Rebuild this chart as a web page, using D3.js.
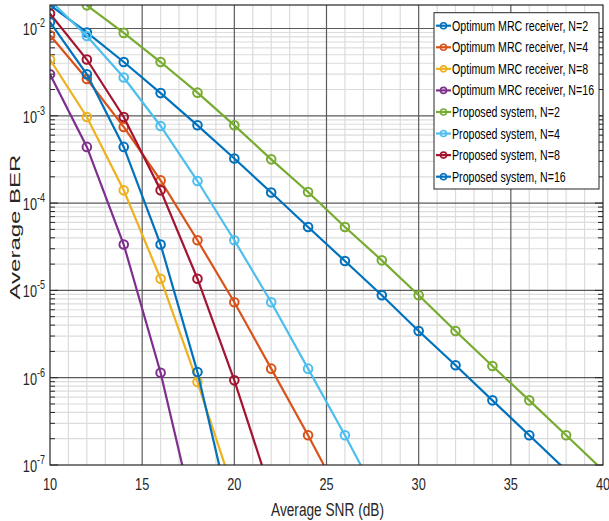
<!DOCTYPE html>
<html><head><meta charset="utf-8">
<script src="https://cdn.jsdelivr.net/npm/d3@7/dist/d3.min.js"></script>
<style>body{margin:0;background:#fff}svg{display:block}</style>
</head><body>
<svg id="c" width="609" height="521"></svg>
<script>
// ---- data ----
const seriesNames = ["Optimum MRC receiver, N=2","Optimum MRC receiver, N=4","Optimum MRC receiver, N=8","Optimum MRC receiver, N=16","Proposed system, N=2","Proposed system, N=4","Proposed system, N=8","Proposed system, N=16"];
const seriesColors = ["#0072BD","#D95319","#EDB120","#7E2F8E","#77AC30","#4DBEEE","#A2142F","#0072BD"];
const optN2_x = [10,12,14,16,18,20,22,24,26,28,30,32,34,36,38];
const optN2_y = [1.85e-2,9.0e-3,4.13e-3,1.82e-3,7.78e-4,3.24e-4,1.32e-4,5.32e-5,2.17e-5,8.8e-6,3.43e-6,1.39e-6,5.5e-7,2.19e-7,8.7e-8];
const optN4_x = [10,12,14,16,18,20,22,24,26];
const optN4_y = [8.36e-3,2.64e-3,7.45e-4,1.82e-4,3.75e-5,7.31e-6,1.27e-6,2.19e-7,3.5e-8];
const optN8_x = [10,12,14,16,18,20];
const optN8_y = [4.41e-3,9.68e-4,1.40e-4,1.36e-5,8.9e-7,4.7e-8];
const optN16_x = [10,12,14,16,18];
const optN16_y = [2.99e-3,4.40e-4,3.35e-5,1.14e-6,1.8e-8];
const propN2_x = [12,14,16,18,20,22,24,26,28,30,32,34,36,38,40];
const propN2_y = [1.84e-2,8.9e-3,4.13e-3,1.84e-3,7.78e-4,3.17e-4,1.34e-4,5.32e-5,2.21e-5,8.8e-6,3.43e-6,1.36e-6,5.5e-7,2.19e-7,8.7e-8];
const propN4_x = [10,12,14,16,18,20,22,24,26,28];
const propN4_y = [2.1e-2,8.2e-3,2.74e-3,7.64e-4,1.79e-4,3.75e-5,7.31e-6,1.27e-6,2.19e-7,3.5e-8];
const propN8_x = [10,12,14,16,18,20,22];
const propN8_y = [1.48e-2,4.41e-3,9.68e-4,1.40e-4,1.36e-5,9.33e-7,4.7e-8];
const propN16_x = [10,12,14,16,18,20];
const propN16_y = [1.18e-2,2.99e-3,4.40e-4,3.35e-5,1.16e-6,1.8e-8];
const xTicks = [10,15,20,25,30,35,40];
const yTickExps = [-7,-6,-5,-4,-3,-2];
const xLabel = "Average SNR (dB)";
const yLabel = "Average BER";

const seriesX = [optN2_x,optN4_x,optN8_x,optN16_x,propN2_x,propN4_x,propN8_x,propN16_x];
const seriesY = [optN2_y,optN4_y,optN8_y,optN16_y,propN2_y,propN4_y,propN8_y,propN16_y];

// ---- layout ----
const L = 50, R = 603, T = 5, B = 465;
const FONT = "'Liberation Sans', Arial, sans-serif";
const svg = d3.select("#c");
const x = d3.scaleLinear().domain([10,40]).range([L,R]);
const y = d3.scaleLog().domain([1e-7, Math.pow(10,-1.731)]).range([B,T]);

// grid
const grid = svg.append("g");
const xMinor = d3.range(11,40).filter(v=>v%5!==0);
const yMinor = [];
for (let e=-7;e<=-2;e++) for (let k=2;k<=9;k++){const v=k*Math.pow(10,e); if (v<y.domain()[1]) yMinor.push(v);}
grid.selectAll(".xm").data(xMinor).join("line").attr("x1",d=>x(d)).attr("x2",d=>x(d)).attr("y1",T).attr("y2",B).attr("stroke","#dcdcdc").attr("stroke-width",1.2);
grid.selectAll(".ym").data(yMinor).join("line").attr("y1",d=>y(d)).attr("y2",d=>y(d)).attr("x1",L).attr("x2",R).attr("stroke","#dcdcdc").attr("stroke-width",1.2);
grid.selectAll(".xM").data(xTicks.slice(1,-1)).join("line").attr("x1",d=>x(d)).attr("x2",d=>x(d)).attr("y1",T).attr("y2",B).attr("stroke","#5a5a5a").attr("stroke-width",1.2);
grid.selectAll(".yM").data(yTickExps.slice(1)).join("line").attr("y1",d=>y(Math.pow(10,d))).attr("y2",d=>y(Math.pow(10,d))).attr("x1",L).attr("x2",R).attr("stroke","#5a5a5a").attr("stroke-width",1.2);

// minor ticks left/right
const tk = svg.append("g").attr("stroke","#262626").attr("stroke-width",1);
yMinor.forEach(v=>{
  tk.append("line").attr("x1",L).attr("x2",L+5).attr("y1",y(v)).attr("y2",y(v));
  tk.append("line").attr("x1",R).attr("x2",R-5).attr("y1",y(v)).attr("y2",y(v));
});
yTickExps.forEach(e=>{
  const v=Math.pow(10,e);
  tk.append("line").attr("x1",L).attr("x2",L+8).attr("y1",y(v)).attr("y2",y(v));
  tk.append("line").attr("x1",R).attr("x2",R-8).attr("y1",y(v)).attr("y2",y(v));
});

// clip
svg.append("clipPath").attr("id","clp").append("rect").attr("x",L).attr("y",T).attr("width",R-L).attr("height",B-T);
const plot = svg.append("g").attr("clip-path","url(#clp)");
const line = d3.line().x(d=>x(d[0])).y(d=>y(d[1]));
seriesX.forEach((xs,i)=>{
  const pts = xs.map((v,j)=>[v,seriesY[i][j]]);
  const g = plot.append("g");
  g.append("path").attr("d",line(pts)).attr("fill","none").attr("stroke",seriesColors[i]).attr("stroke-width",2.2);
  g.selectAll("circle").data(pts).join("circle").attr("cx",d=>x(d[0])).attr("cy",d=>y(d[1])).attr("r",4.3)
   .attr("fill","none").attr("stroke",seriesColors[i]).attr("stroke-width",2);
});

// axes box
svg.append("rect").attr("x",L).attr("y",T).attr("width",R-L).attr("height",B-T).attr("fill","none").attr("stroke","#262626").attr("stroke-width",1.2);

// tick labels
function sText(px,py,str,size,sx,anchor){
  const g = svg.append("g").attr("transform",`translate(${px},${py}) scale(${sx},1)`);
  return g.append("text").attr("font-family",FONT).attr("font-size",size).attr("fill","#262626").attr("text-anchor",anchor).text(str);
}
xTicks.forEach(v=>{ sText(x(v),490,String(v),17,0.75,"middle"); });
yTickExps.forEach(e=>{
  const g = svg.append("g").attr("transform",`translate(45,${y(Math.pow(10,e))+7}) scale(0.75,1)`);
  const t = g.append("text").attr("font-family",FONT).attr("font-size",17).attr("fill","#262626").attr("text-anchor","end");
  t.append("tspan").text("10");
  t.append("tspan").attr("dy",-8).attr("font-size",12).text(String(e));
});
sText((L+R)/2+1,516,xLabel,19,0.72,"middle");
// y label
svg.append("g").attr("transform",`translate(20,${(T+B)/2-8}) scale(0.6,1) rotate(-90)`)
  .append("text").attr("font-family",FONT).attr("font-size",24).attr("fill","#262626").attr("text-anchor","middle").text(yLabel);

// legend
const lg = svg.append("g");
lg.append("rect").attr("x",434).attr("y",12.7).attr("width",165).attr("height",176.3).attr("fill","#fff").attr("stroke","#262626").attr("stroke-width",1);
seriesNames.forEach((n,i)=>{
  const yy = 25.7 + i*21.57;
  lg.append("line").attr("x1",436).attr("x2",451).attr("y1",yy).attr("y2",yy).attr("stroke",seriesColors[i]).attr("stroke-width",2.2);
  lg.append("circle").attr("cx",443.5).attr("cy",yy).attr("r",3).attr("fill","none").attr("stroke",seriesColors[i]).attr("stroke-width",1.6);
  const g = lg.append("g").attr("transform",`translate(452,${yy+5}) scale(0.76,1)`);
  g.append("text").attr("font-family",FONT).attr("font-size",14).attr("fill","#000").text(n);
});
</script>
</body></html>
